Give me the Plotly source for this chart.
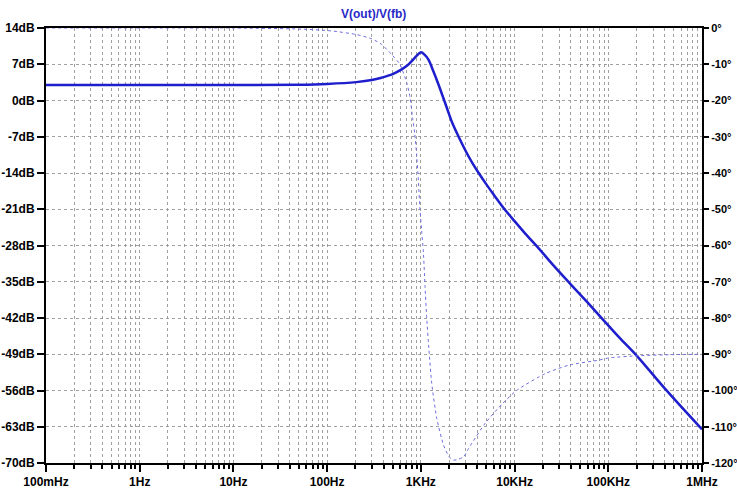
import plotly.graph_objects as go

# Magnitude (dB)
mag_freq = [0.1, 1, 10, 50, 100, 205, 300, 380, 500, 624, 720, 798, 900, 1003, 1100, 1205, 1350, 1542,
            1892, 2140, 2500, 3000, 3500, 4140, 5000, 6000, 7670, 10000, 13000, 18200, 25000, 39700,
            60000, 86800, 130000, 206000, 400000, 1000000]
mag_db = [3.0, 3.0, 3.0, 3.05, 3.2, 3.55, 3.95, 4.4, 5.1, 6.0, 6.8, 7.6, 8.6, 9.3, 8.8, 7.9, 5.8, 3.1,
          -1.4, -4.1, -6.8, -9.7, -11.9, -14.0, -16.2, -18.2, -20.8, -23.3, -25.7, -28.6, -31.5, -35.5,
          -39.0, -42.2, -45.7, -49.5, -55.6, -63.5]

# Phase (degrees)
ph_freq = [0.1, 1, 10, 53, 111, 205, 300, 380, 487, 597, 705, 765, 818, 860, 902, 940, 979, 1020, 1065,
           1107, 1155, 1222, 1306, 1478, 1743, 2000, 2231, 2500, 2856, 3233, 3510, 4875, 7500, 10600,
           21400, 38000, 80000, 102000, 214000, 500000, 1000000]
ph_deg = [0.0, 0.0, 0.0, -0.3, -0.8, -1.8, -3.0, -4.5, -7.3, -10.0, -15.0, -19.0, -25.0, -29.0, -35.0,
          -42.0, -50.0, -56.0, -62.0, -71.0, -80.0, -89.0, -98.0, -107.7, -115.0, -118.3, -119.2, -119.0,
          -118.3, -116.0, -114.5, -109.0, -103.5, -99.9, -95.3, -93.0, -91.6, -91.0, -90.4, -90.1, -90.0]

x_tickvals = [0.1, 1, 10, 100, 1000, 10000, 100000, 1000000]
x_ticktext = ["100mHz", "1Hz", "10Hz", "100Hz", "1KHz", "10KHz", "100KHz", "1MHz"]
db_ticks = [14, 7, 0, -7, -14, -21, -28, -35, -42, -49, -56, -63, -70]
db_text = [f"{v}dB" for v in db_ticks]
deg_ticks = [0, -10, -20, -30, -40, -50, -60, -70, -80, -90, -100, -110, -120]
deg_text = [f"{v}°" for v in deg_ticks]

minor_vals = [k * 10 ** d for d in range(-1, 6) for k in range(2, 10)]

FONT = "Liberation Sans, Arial, sans-serif"
GRID = "rgba(150,150,150,0.9)"
ML, MR, MT, MB = 46, 35, 28, 29
W, H = 737, 492

fig = go.Figure()
fig.add_trace(go.Scatter(x=ph_freq, y=ph_deg, yaxis="y2", mode="lines",
                         line=dict(color="rgb(110,110,225)", width=1, dash="dot", shape="spline", smoothing=0.6),
                         showlegend=False, hoverinfo="skip"))
fig.add_trace(go.Scatter(x=mag_freq, y=mag_db, mode="lines",
                         line=dict(color="rgb(30,30,205)", width=2.5, shape="spline", smoothing=1.0),
                         showlegend=False))

tickfont = dict(family=FONT, size=12, color="black", weight="bold")
tickfont_r = dict(family=FONT, size=11, color="black", weight="bold")

fig.update_layout(
    width=W, height=H,
    margin=dict(l=ML, r=MR, t=MT, b=MB, autoexpand=False),
    paper_bgcolor="white", plot_bgcolor="white",
    font=dict(family=FONT, size=12, color="black"),
    xaxis=dict(type="log", range=[-1, 6], tickmode="array", tickvals=x_tickvals, ticktext=x_ticktext,
               automargin=False,
               showline=True, linecolor="black", linewidth=2, mirror=True,
               ticks="outside", ticklen=7, tickwidth=1.5, tickcolor="black",
               showgrid=True, gridcolor=GRID, griddash="dot", gridwidth=1,
               minor=dict(tickmode="array", tickvals=minor_vals, ticks="outside", ticklen=4,
                          tickwidth=1.5, tickcolor="black", showgrid=True, gridcolor=GRID,
                          griddash="dot", gridwidth=1),
               zeroline=False, tickfont=tickfont),
    yaxis=dict(range=[-70, 14], tickmode="array", tickvals=db_ticks, ticktext=db_text,
               automargin=False,
               showline=True, linecolor="black", linewidth=2,
               ticks="outside", ticklen=7, tickwidth=1.5, tickcolor="black",
               showgrid=True, gridcolor=GRID, griddash="dot", gridwidth=1, zeroline=False,
               tickfont=tickfont),
    yaxis2=dict(range=[-120, 0], tickmode="array", tickvals=deg_ticks, ticktext=deg_text,
                automargin=False,
                overlaying="y", side="right", showline=True, linecolor="black", linewidth=2,
                ticks="outside", ticklen=5, tickwidth=1.5, tickcolor="black",
                showgrid=False, zeroline=False, tickfont=tickfont_r),
    annotations=[dict(text="V(out)/V(fb)", xref="paper", yref="paper",
                      x=(373 - ML) / (W - ML - MR), y=1 + (MT - 14) / (H - MT - MB),
                      xanchor="center", yanchor="middle", showarrow=False,
                      font=dict(family=FONT, size=12, color="rgb(40,40,200)", weight="bold"))],
)

# remove the browser's default 8px body margin so the figure sits at the window origin
fig.write_html("out.html", config={"displayModeBar": False},
               post_script="document.body.style.margin='0';")
